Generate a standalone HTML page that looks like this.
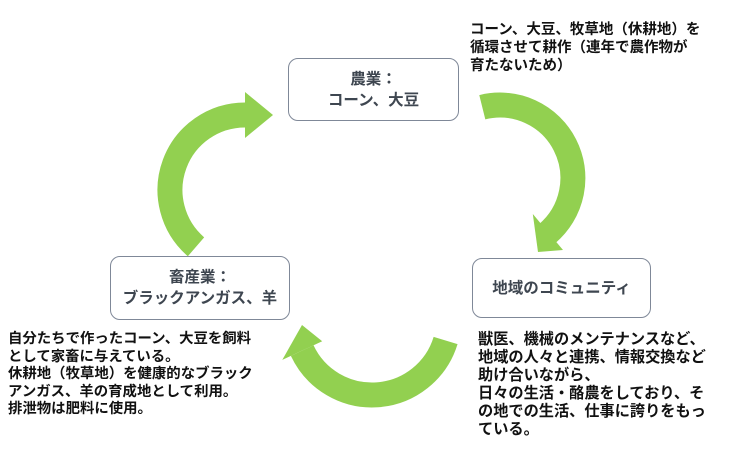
<!DOCTYPE html>
<html><head><meta charset="utf-8"><style>
body{margin:0;width:733px;height:449px;background:#fff;position:relative;overflow:hidden;font-family:"Liberation Sans","Noto Sans CJK JP",sans-serif;}
.t{position:absolute;font-weight:bold;color:#111;white-space:nowrap;}
.box{position:absolute;border:1.5px solid #7f8898;border-radius:10px;box-sizing:border-box;display:flex;align-items:center;justify-content:center;text-align:center;font-weight:bold;color:#3e4650;font-size:15.5px;line-height:21px;background:#fff;}
svg{position:absolute;left:0;top:0;}
</style></head><body>
<svg width="733" height="449">
<g fill="none" stroke="#92d050" stroke-width="25" stroke-linecap="butt">
<path d="M196,246.8 A75,75 0 0 1 245,115"/>
<path d="M482.3,107.2 A73,73 0 0 1 546.9,233.9"/>
<path d="M445.6,340.5 A77,77 0 0 1 302.2,350.6"/>
</g>
<g fill="#92d050">
<polygon points="245,92 245,138 273,115"/>
<polygon points="563,250 532.8,214 538,252"/>
<polygon points="282.3,359.9 322.2,341.3 302,325"/>
</g>
</svg>
<div class="box" style="left:288px;top:58px;width:171px;height:63px;">農業：<br>コーン、大豆</div>
<div class="box" style="left:110px;top:256px;width:180px;height:64px;">畜産業：<br>ブラックアンガス、羊</div>
<div class="box" style="left:472px;top:258px;width:179px;height:60px;">地域のコミュニティ</div>
<div class="t" style="left:470px;top:21px;font-size:14.5px;line-height:18px;">コーン、大豆、牧草地（休耕地）を<br>循環させて耕作（連年で農作物が<br>育たないため）</div>
<div class="t" style="left:8px;top:331px;font-size:14.4px;line-height:17.5px;">自分たちで作ったコーン、大豆を飼料<br>として家畜に与えている。<br>休耕地（牧草地）を健康的なブラック<br>アンガス、羊の育成地として利用。<br>排泄物は肥料に使用。</div>
<div class="t" style="left:478px;top:331px;font-size:15.2px;line-height:18px;">獣医、機械のメンテナンスなど、<br>地域の人々と連携、情報交換など<br>助け合いながら、<br>日々の生活・酪農をしており、そ<br>の地での生活、仕事に誇りをもっ<br>ている。</div>
</body></html>
